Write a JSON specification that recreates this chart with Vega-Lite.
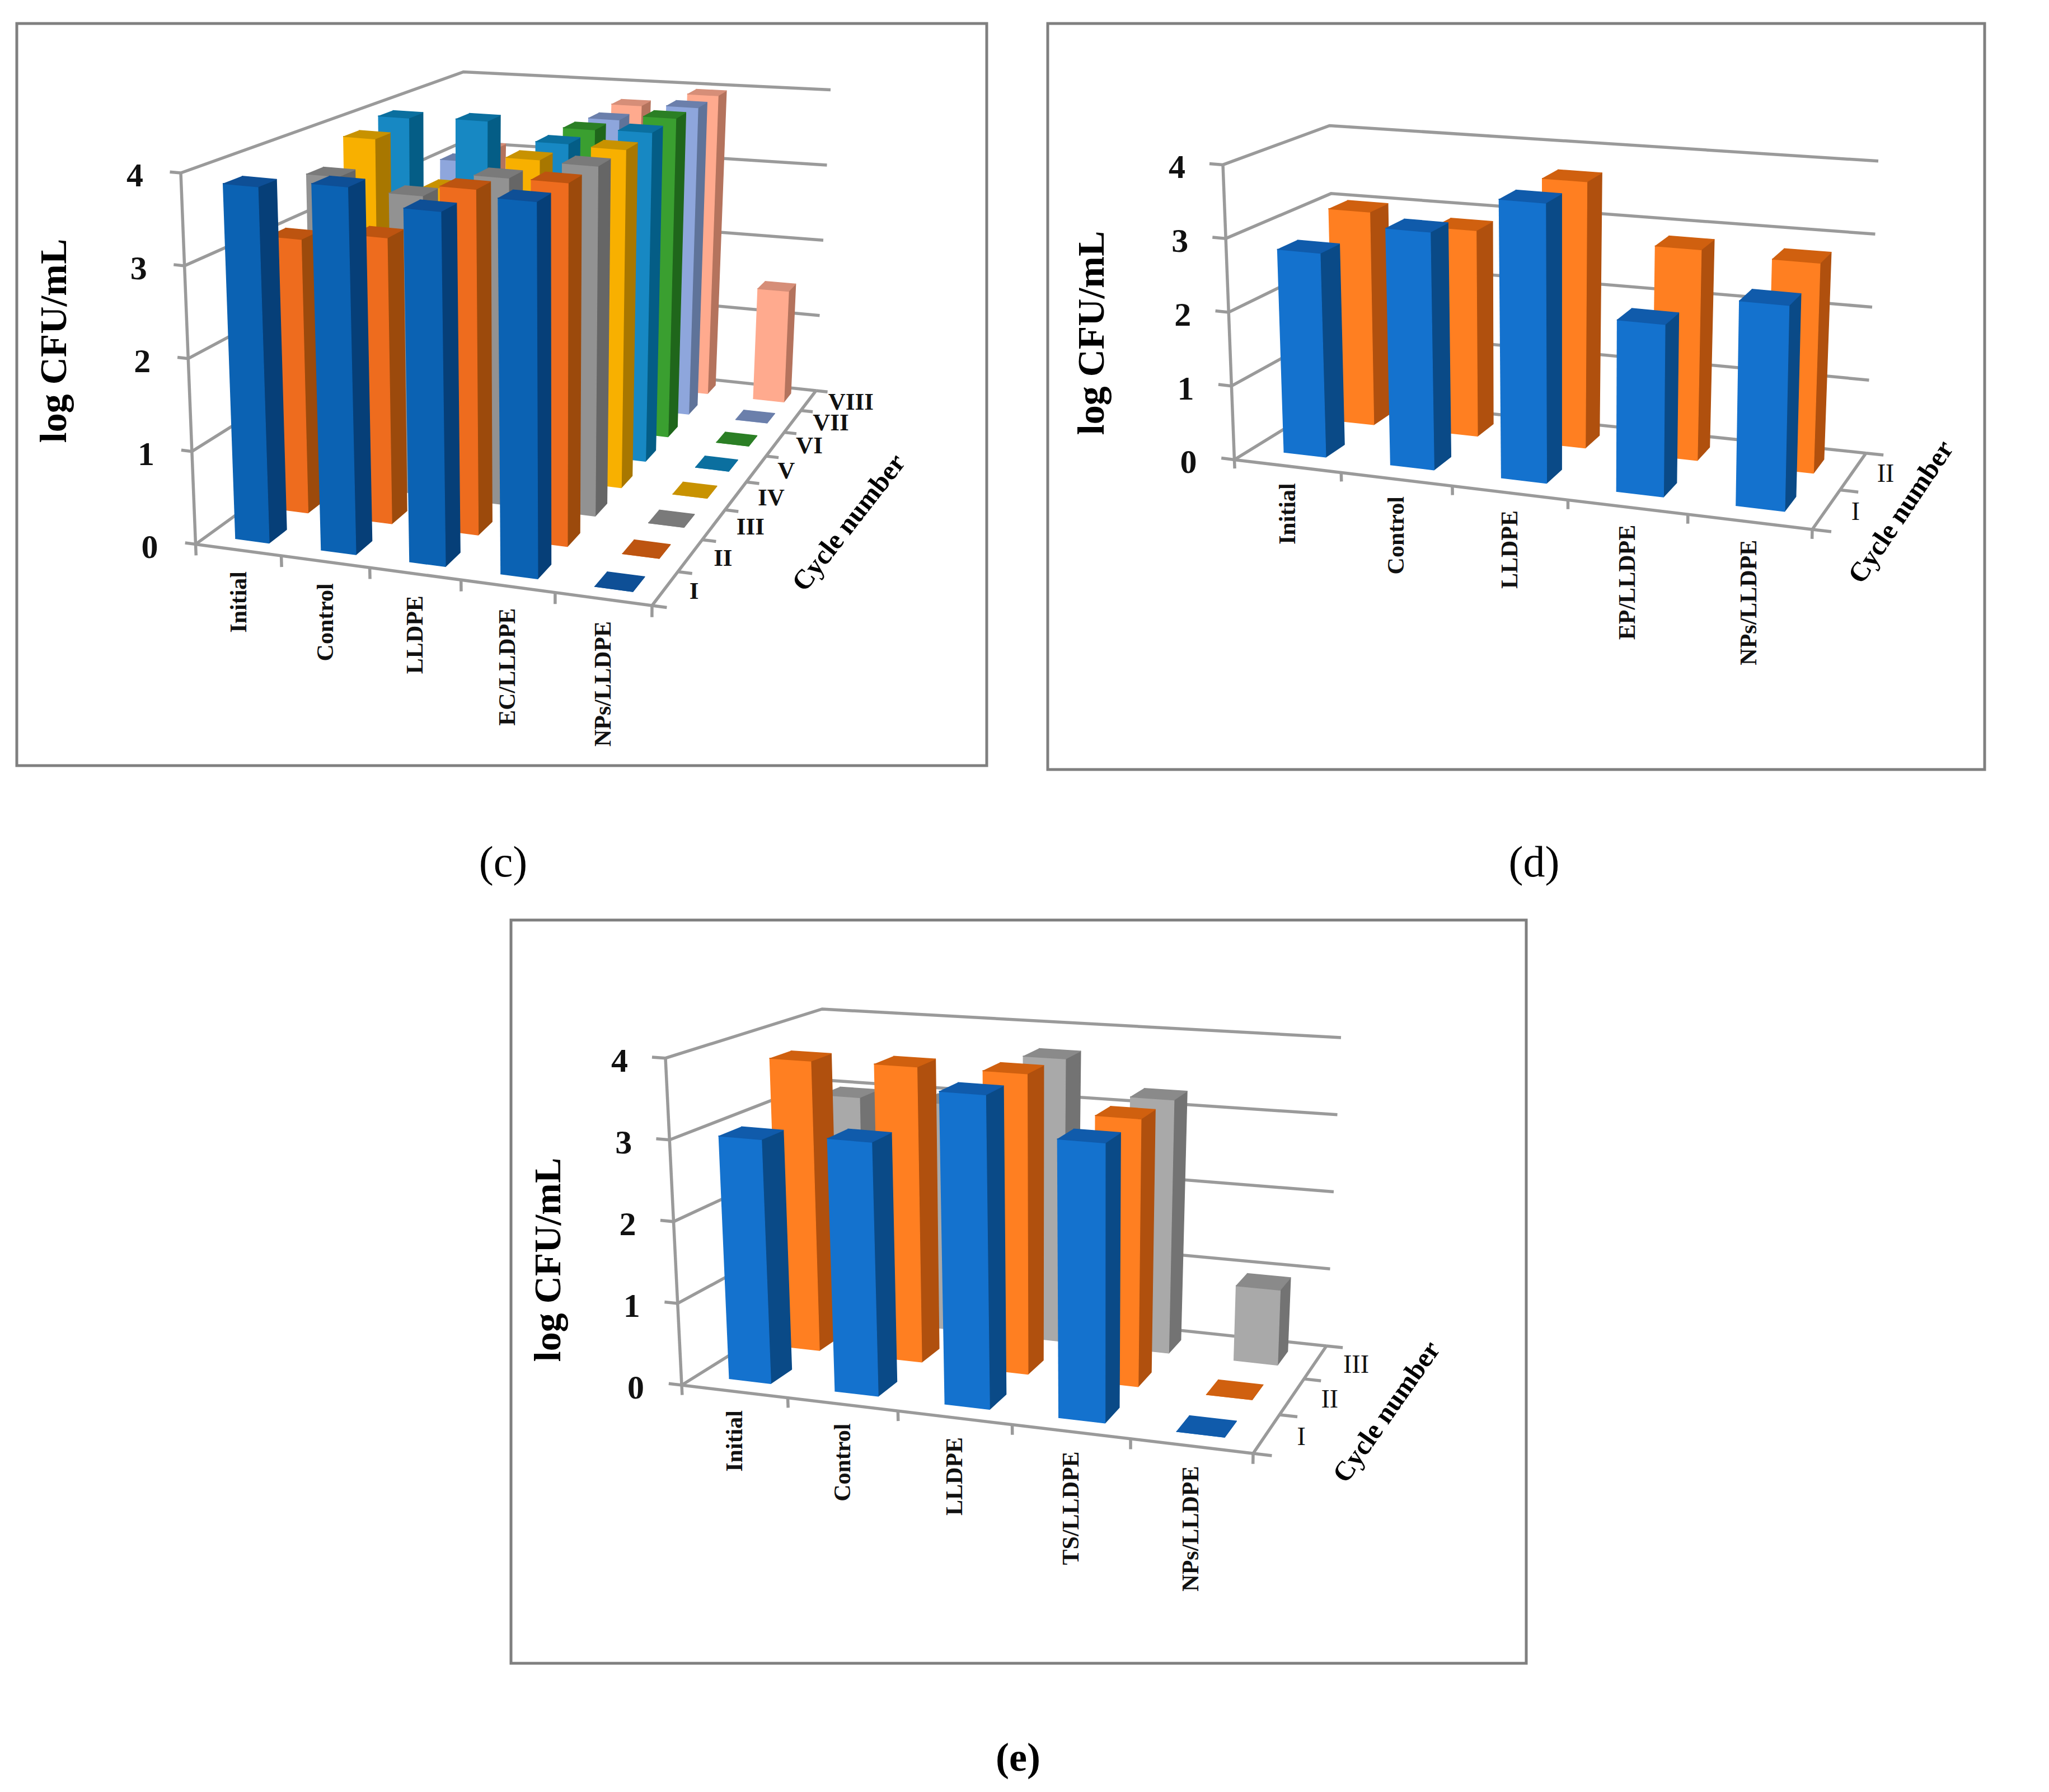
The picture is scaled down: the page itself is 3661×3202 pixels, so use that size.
{"$schema":"https://vega.github.io/schema/vega-lite/v6.json","width":3661,"height":3202,"padding":0,"autosize":{"type":"fit","contains":"padding"},"background":"white","config":{"view":{"stroke":null}},
"params":[{"name":"geo","value":{
"c":{"n":8,"ku":0.077,"kw":0.3,"cu":1.05,"bu":[0.32,0.72],"bw":[0.3,0.74],"frame":[30,42,1763,1368],"cap":[899,1543],"yt":[98,609],"ct":[1517,934],"ang":308,
"x":[349.5,1165,822,1458,323,1170,828,1484],"y":[972.5,1082,630,698,309,389,128.5,160.6],
"pal":[["#0b62b3","#063f78","#0e4f96"],["#ee6c1e","#9c4a0c","#bd5410"],["#929292","#666666","#7a7a7a"],["#f8b000","#a87700","#c89200"],["#1788c3","#045d86","#0b6f9f"],["#3a9f30","#1f661b","#2b7f25"],["#8ea6dc","#5f7399","#6b7fab"],["#ffaa8e","#b4735d","#d68e78"]]},
"d":{"n":2,"ku":0.095,"kw":0.07,"cu":1.04,"bu":[0.3,0.7],"bw":[0.34,0.72],"frame":[1872,42,3546,1375],"cap":[2741,1543],"yt":[1952,595],"ct":[3397,915],"ang":304,
"x":[2205.5,3238,2386,3334,2185,3250,2375.5,3356],"y":[821.4,946,710,809.7,294.4,383,224.5,287.8],
"pal":[["#1472ce","#0a4a87","#105bab"],["#ff7f21","#b0500e","#d0600f"]]},
"e":{"n":3,"ku":0.09,"kw":0.12,"cu":1.05,"bu":[0.3,0.7],"bw":[0.3,0.72],"frame":[913,1644,2727,2972],"cap":[1819,3142],"yt":[981,2251],"ct":[2478,2523],"ang":305,
"x":[1218,2239,1481.6,2370,1189,2248,1469,2396],"y":[2475,2597,2310.6,2405,1890.7,1970,1803,1854],
"pal":[["#1472ce","#0a4a87","#105bab"],["#ff7f21","#b0500e","#d0600f"],["#a9a9a9","#737373","#8a8a8a"]]}
}}],
"datasets":{
"panels":[{"panel":"c","caption":"(c)"},{"panel":"d","caption":"(d)"},{"panel":"e","caption":"(e)"}],
"axes":[
{"panel":"c","kind":"wall","n":0},{"panel":"c","kind":"wall","n":1},{"panel":"c","kind":"wall","n":2},{"panel":"c","kind":"wall","n":3},{"panel":"c","kind":"wall","n":4},{"panel":"c","kind":"valueAxis","n":0},{"panel":"c","kind":"floor","n":0},
{"panel":"c","kind":"catTick","n":0},{"panel":"c","kind":"catTick","n":1},{"panel":"c","kind":"catTick","n":2},{"panel":"c","kind":"catTick","n":3},{"panel":"c","kind":"catTick","n":4},{"panel":"c","kind":"catTick","n":5},
{"panel":"c","kind":"cycTick","n":0},{"panel":"c","kind":"cycTick","n":1},{"panel":"c","kind":"cycTick","n":2},{"panel":"c","kind":"cycTick","n":3},{"panel":"c","kind":"cycTick","n":4},{"panel":"c","kind":"cycTick","n":5},{"panel":"c","kind":"cycTick","n":6},{"panel":"c","kind":"cycTick","n":7},{"panel":"c","kind":"cycTick","n":8},
{"panel":"d","kind":"wall","n":0},{"panel":"d","kind":"wall","n":1},{"panel":"d","kind":"wall","n":2},{"panel":"d","kind":"wall","n":3},{"panel":"d","kind":"wall","n":4},{"panel":"d","kind":"valueAxis","n":0},{"panel":"d","kind":"floor","n":0},
{"panel":"d","kind":"catTick","n":0},{"panel":"d","kind":"catTick","n":1},{"panel":"d","kind":"catTick","n":2},{"panel":"d","kind":"catTick","n":3},{"panel":"d","kind":"catTick","n":4},{"panel":"d","kind":"catTick","n":5},
{"panel":"d","kind":"cycTick","n":0},{"panel":"d","kind":"cycTick","n":1},{"panel":"d","kind":"cycTick","n":2},
{"panel":"e","kind":"wall","n":0},{"panel":"e","kind":"wall","n":1},{"panel":"e","kind":"wall","n":2},{"panel":"e","kind":"wall","n":3},{"panel":"e","kind":"wall","n":4},{"panel":"e","kind":"valueAxis","n":0},{"panel":"e","kind":"floor","n":0},
{"panel":"e","kind":"catTick","n":0},{"panel":"e","kind":"catTick","n":1},{"panel":"e","kind":"catTick","n":2},{"panel":"e","kind":"catTick","n":3},{"panel":"e","kind":"catTick","n":4},{"panel":"e","kind":"catTick","n":5},
{"panel":"e","kind":"cycTick","n":0},{"panel":"e","kind":"cycTick","n":1},{"panel":"e","kind":"cycTick","n":2},{"panel":"e","kind":"cycTick","n":3}],
"labels":[
{"panel":"c","kind":"value","n":0,"label":"0"},{"panel":"c","kind":"value","n":1,"label":"1"},{"panel":"c","kind":"value","n":2,"label":"2"},{"panel":"c","kind":"value","n":3,"label":"3"},{"panel":"c","kind":"value","n":4,"label":"4"},
{"panel":"d","kind":"value","n":0,"label":"0"},{"panel":"d","kind":"value","n":1,"label":"1"},{"panel":"d","kind":"value","n":2,"label":"2"},{"panel":"d","kind":"value","n":3,"label":"3"},{"panel":"d","kind":"value","n":4,"label":"4"},
{"panel":"e","kind":"value","n":0,"label":"0"},{"panel":"e","kind":"value","n":1,"label":"1"},{"panel":"e","kind":"value","n":2,"label":"2"},{"panel":"e","kind":"value","n":3,"label":"3"},{"panel":"e","kind":"value","n":4,"label":"4"},
{"panel":"c","kind":"category","n":0,"label":"Initial"},{"panel":"c","kind":"category","n":1,"label":"Control"},{"panel":"c","kind":"category","n":2,"label":"LLDPE"},{"panel":"c","kind":"category","n":3,"label":"EC/LLDPE"},{"panel":"c","kind":"category","n":4,"label":"NPs/LLDPE"},
{"panel":"d","kind":"category","n":0,"label":"Initial"},{"panel":"d","kind":"category","n":1,"label":"Control"},{"panel":"d","kind":"category","n":2,"label":"LLDPE"},{"panel":"d","kind":"category","n":3,"label":"EP/LLDPE"},{"panel":"d","kind":"category","n":4,"label":"NPs/LLDPE"},
{"panel":"e","kind":"category","n":0,"label":"Initial"},{"panel":"e","kind":"category","n":1,"label":"Control"},{"panel":"e","kind":"category","n":2,"label":"LLDPE"},{"panel":"e","kind":"category","n":3,"label":"TS/LLDPE"},{"panel":"e","kind":"category","n":4,"label":"NPs/LLDPE"},
{"panel":"c","kind":"cycle","n":0,"label":"I"},{"panel":"c","kind":"cycle","n":1,"label":"II"},{"panel":"c","kind":"cycle","n":2,"label":"III"},{"panel":"c","kind":"cycle","n":3,"label":"IV"},{"panel":"c","kind":"cycle","n":4,"label":"V"},{"panel":"c","kind":"cycle","n":5,"label":"VI"},{"panel":"c","kind":"cycle","n":6,"label":"VII"},{"panel":"c","kind":"cycle","n":7,"label":"VIII"},
{"panel":"d","kind":"cycle","n":0,"label":"I"},{"panel":"d","kind":"cycle","n":1,"label":"II"},
{"panel":"e","kind":"cycle","n":0,"label":"I"},{"panel":"e","kind":"cycle","n":1,"label":"II"},{"panel":"e","kind":"cycle","n":2,"label":"III"}],
"bars":[
{"panel":"c","category":"Initial","i":0,"cycle":"VIII","j":7,"value":3.06},{"panel":"c","category":"Control","i":1,"cycle":"VIII","j":7,"value":3.0},{"panel":"c","category":"LLDPE","i":2,"cycle":"VIII","j":7,"value":3.77},{"panel":"c","category":"EC/LLDPE","i":3,"cycle":"VIII","j":7,"value":3.96},{"panel":"c","category":"NPs/LLDPE","i":4,"cycle":"VIII","j":7,"value":1.45},
{"panel":"c","category":"Initial","i":0,"cycle":"VII","j":6,"value":3.06},{"panel":"c","category":"Control","i":1,"cycle":"VII","j":6,"value":3.0},{"panel":"c","category":"LLDPE","i":2,"cycle":"VII","j":6,"value":3.74},{"panel":"c","category":"EC/LLDPE","i":3,"cycle":"VII","j":6,"value":3.96},{"panel":"c","category":"NPs/LLDPE","i":4,"cycle":"VII","j":6,"value":0},
{"panel":"c","category":"Initial","i":0,"cycle":"VI","j":5,"value":2.7},{"panel":"c","category":"Control","i":1,"cycle":"VI","j":5,"value":3.1},{"panel":"c","category":"LLDPE","i":2,"cycle":"VI","j":5,"value":3.78},{"panel":"c","category":"EC/LLDPE","i":3,"cycle":"VI","j":5,"value":3.99},{"panel":"c","category":"NPs/LLDPE","i":4,"cycle":"VI","j":5,"value":0},
{"panel":"c","category":"Initial","i":0,"cycle":"V","j":4,"value":3.96},{"panel":"c","category":"Control","i":1,"cycle":"V","j":4,"value":3.99},{"panel":"c","category":"LLDPE","i":2,"cycle":"V","j":4,"value":3.78},{"panel":"c","category":"EC/LLDPE","i":3,"cycle":"V","j":4,"value":3.99},{"panel":"c","category":"NPs/LLDPE","i":4,"cycle":"V","j":4,"value":0},
{"panel":"c","category":"Initial","i":0,"cycle":"IV","j":3,"value":3.87},{"panel":"c","category":"Control","i":1,"cycle":"IV","j":3,"value":3.34},{"panel":"c","category":"LLDPE","i":2,"cycle":"IV","j":3,"value":3.77},{"panel":"c","category":"EC/LLDPE","i":3,"cycle":"IV","j":3,"value":3.97},{"panel":"c","category":"NPs/LLDPE","i":4,"cycle":"IV","j":3,"value":0},
{"panel":"c","category":"Initial","i":0,"cycle":"III","j":2,"value":3.6},{"panel":"c","category":"Control","i":1,"cycle":"III","j":2,"value":3.46},{"panel":"c","category":"LLDPE","i":2,"cycle":"III","j":2,"value":3.75},{"panel":"c","category":"EC/LLDPE","i":3,"cycle":"III","j":2,"value":3.97},{"panel":"c","category":"NPs/LLDPE","i":4,"cycle":"III","j":2,"value":0},
{"panel":"c","category":"Initial","i":0,"cycle":"II","j":1,"value":3.08},{"panel":"c","category":"Control","i":1,"cycle":"II","j":1,"value":3.19},{"panel":"c","category":"LLDPE","i":2,"cycle":"II","j":1,"value":3.82},{"panel":"c","category":"EC/LLDPE","i":3,"cycle":"II","j":1,"value":3.98},{"panel":"c","category":"NPs/LLDPE","i":4,"cycle":"II","j":1,"value":0},
{"panel":"c","category":"Initial","i":0,"cycle":"I","j":0,"value":3.86},{"panel":"c","category":"Control","i":1,"cycle":"I","j":0,"value":3.95},{"panel":"c","category":"LLDPE","i":2,"cycle":"I","j":0,"value":3.78},{"panel":"c","category":"EC/LLDPE","i":3,"cycle":"I","j":0,"value":3.98},{"panel":"c","category":"NPs/LLDPE","i":4,"cycle":"I","j":0,"value":0},
{"panel":"d","category":"Initial","i":0,"cycle":"II","j":1,"value":3.02},{"panel":"d","category":"Control","i":1,"cycle":"II","j":1,"value":2.88},{"panel":"d","category":"LLDPE","i":2,"cycle":"II","j":1,"value":3.68},{"panel":"d","category":"EP/LLDPE","i":3,"cycle":"II","j":1,"value":2.87},{"panel":"d","category":"NPs/LLDPE","i":4,"cycle":"II","j":1,"value":2.82},
{"panel":"d","category":"Initial","i":0,"cycle":"I","j":0,"value":2.78},{"panel":"d","category":"Control","i":1,"cycle":"I","j":0,"value":3.2},{"panel":"d","category":"LLDPE","i":2,"cycle":"I","j":0,"value":3.72},{"panel":"d","category":"EP/LLDPE","i":3,"cycle":"I","j":0,"value":2.26},{"panel":"d","category":"NPs/LLDPE","i":4,"cycle":"I","j":0,"value":2.66},
{"panel":"e","category":"Initial","i":0,"cycle":"III","j":2,"value":3.0},{"panel":"e","category":"Control","i":1,"cycle":"III","j":2,"value":3.0},{"panel":"e","category":"LLDPE","i":2,"cycle":"III","j":2,"value":3.7},{"panel":"e","category":"TS/LLDPE","i":3,"cycle":"III","j":2,"value":3.26},{"panel":"e","category":"NPs/LLDPE","i":4,"cycle":"III","j":2,"value":0.95},
{"panel":"e","category":"Initial","i":0,"cycle":"II","j":1,"value":3.73},{"panel":"e","category":"Control","i":1,"cycle":"II","j":1,"value":3.75},{"panel":"e","category":"LLDPE","i":2,"cycle":"II","j":1,"value":3.76},{"panel":"e","category":"TS/LLDPE","i":3,"cycle":"II","j":1,"value":3.3},{"panel":"e","category":"NPs/LLDPE","i":4,"cycle":"II","j":1,"value":0},
{"panel":"e","category":"Initial","i":0,"cycle":"I","j":0,"value":3.0},{"panel":"e","category":"Control","i":1,"cycle":"I","j":0,"value":3.08},{"panel":"e","category":"LLDPE","i":2,"cycle":"I","j":0,"value":3.76},{"panel":"e","category":"TS/LLDPE","i":3,"cycle":"I","j":0,"value":3.3},{"panel":"e","category":"NPs/LLDPE","i":4,"cycle":"I","j":0,"value":0}
]},
"layer":[
{"data":{"name":"panels"},
 "transform":[{"calculate":"geo[datum.panel].frame[0]","as":"fx"},{"calculate":"geo[datum.panel].frame[1]","as":"fy"},{"calculate":"geo[datum.panel].frame[2]","as":"fx2"},{"calculate":"geo[datum.panel].frame[3]","as":"fy2"}],
 "mark":{"type":"rect","fill":"white","stroke":"#7f7f7f","strokeWidth":5},
 "encoding":{"x":{"field":"fx","type":"quantitative","scale":{"domain":[0,3661],"nice":false,"zero":false},"axis":null},"x2":{"field":"fx2"},"y":{"field":"fy","type":"quantitative","scale":{"domain":[3202,0],"nice":false,"zero":false},"axis":null},"y2":{"field":"fy2"}}},
{"data":{"name":"axes"},
 "transform":[
 {"calculate":"geo[datum.panel]","as":"g"},
 {"calculate":"datum.kind=='wall'?[-0.025,0,0,1]:datum.kind=='valueAxis'?[0,0]:datum.kind=='floor'?[0,1,1]:datum.kind=='catTick'?[datum.n/5,datum.n/5]:[1,1.03]","as":"U"},
 {"calculate":"datum.kind=='wall'?[0,0,1,1]:datum.kind=='valueAxis'?[0,0]:datum.kind=='floor'?[0,0,1]:datum.kind=='catTick'?[0,0]:[datum.n/datum.g.n,datum.n/datum.g.n]","as":"W"},
 {"calculate":"datum.kind=='wall'?[datum.n,datum.n,datum.n,datum.n]:datum.kind=='valueAxis'?[0,4]:datum.kind=='floor'?[0,0,0]:datum.kind=='catTick'?[0,-0.12]:[0,0]","as":"V"},
 {"calculate":"datum.kind=='wall'?[0,1,2,3]:datum.kind=='floor'?[0,1,2]:[0,1]","as":"seq"},
 {"flatten":["U","W","V","seq"]},
 {"calculate":"datum.U-datum.g.ku*datum.U*(1-datum.U)","as":"a"},{"calculate":"datum.W+datum.g.kw*datum.W*(1-datum.W)","as":"b"},{"calculate":"datum.V/4","as":"t"},
 {"calculate":"(1-datum.t)*((1-datum.b)*((1-datum.a)*datum.g.x[0]+datum.a*datum.g.x[1])+datum.b*((1-datum.a)*datum.g.x[2]+datum.a*datum.g.x[3]))+datum.t*((1-datum.b)*((1-datum.a)*datum.g.x[4]+datum.a*datum.g.x[5])+datum.b*((1-datum.a)*datum.g.x[6]+datum.a*datum.g.x[7]))","as":"X"},
 {"calculate":"(1-datum.t)*((1-datum.b)*((1-datum.a)*datum.g.y[0]+datum.a*datum.g.y[1])+datum.b*((1-datum.a)*datum.g.y[2]+datum.a*datum.g.y[3]))+datum.t*((1-datum.b)*((1-datum.a)*datum.g.y[4]+datum.a*datum.g.y[5])+datum.b*((1-datum.a)*datum.g.y[6]+datum.a*datum.g.y[7]))","as":"Y"},
 {"calculate":"datum.panel+'-'+datum.kind+'-'+datum.n","as":"id"}],
 "mark":{"type":"line","stroke":"#9a9a9a","strokeWidth":5.5,"strokeJoin":"miter","strokeCap":"butt"},
 "encoding":{"x":{"field":"X","type":"quantitative","scale":{"domain":[0,3661],"nice":false,"zero":false},"axis":null},"y":{"field":"Y","type":"quantitative","scale":{"domain":[3202,0],"nice":false,"zero":false},"axis":null},"detail":{"field":"id"},"order":{"field":"seq"}}},
{"data":{"name":"bars"},
 "transform":[
 {"calculate":"geo[datum.panel]","as":"g"},
 {"calculate":"[1,0,2]","as":"face"},{"flatten":["face"]},
 {"calculate":"[0,1,2,3]","as":"vertex"},{"flatten":["vertex"]},
 {"calculate":"(datum.i+datum.g.bu[0])/5","as":"u0"},{"calculate":"(datum.i+datum.g.bu[1])/5","as":"u1"},
 {"calculate":"(datum.j+datum.g.bw[0])/datum.g.n","as":"w0"},{"calculate":"(datum.j+datum.g.bw[1])/datum.g.n","as":"w1"},
 {"calculate":"datum.face==1?datum.u1:((datum.vertex==1||datum.vertex==2)?datum.u1:datum.u0)","as":"U"},
 {"calculate":"datum.face==0?datum.w0:datum.face==1?((datum.vertex==1||datum.vertex==2)?datum.w1:datum.w0):((datum.vertex>=2)?datum.w1:datum.w0)","as":"W"},
 {"calculate":"datum.face==2?datum.value:(datum.vertex>=2?datum.value:0)","as":"V"},
 {"calculate":"datum.U-datum.g.ku*datum.U*(1-datum.U)","as":"a"},{"calculate":"datum.W+datum.g.kw*datum.W*(1-datum.W)","as":"b"},{"calculate":"datum.V/4","as":"t"},
 {"calculate":"(1-datum.t)*((1-datum.b)*((1-datum.a)*datum.g.x[0]+datum.a*datum.g.x[1])+datum.b*((1-datum.a)*datum.g.x[2]+datum.a*datum.g.x[3]))+datum.t*((1-datum.b)*((1-datum.a)*datum.g.x[4]+datum.a*datum.g.x[5])+datum.b*((1-datum.a)*datum.g.x[6]+datum.a*datum.g.x[7]))","as":"X"},
 {"calculate":"(1-datum.t)*((1-datum.b)*((1-datum.a)*datum.g.y[0]+datum.a*datum.g.y[1])+datum.b*((1-datum.a)*datum.g.y[2]+datum.a*datum.g.y[3]))+datum.t*((1-datum.b)*((1-datum.a)*datum.g.y[4]+datum.a*datum.g.y[5])+datum.b*((1-datum.a)*datum.g.y[6]+datum.a*datum.g.y[7]))","as":"Y"},
 {"calculate":"datum.panel+'-'+datum.i+'-'+datum.j+'-'+datum.face","as":"poly"},
 {"calculate":"datum.g.pal[datum.j][datum.face]","as":"color"}],
 "mark":{"type":"line","strokeWidth":1.5,"strokeJoin":"round"},
 "encoding":{"x":{"field":"X","type":"quantitative","scale":{"domain":[0,3661],"nice":false,"zero":false},"axis":null},"y":{"field":"Y","type":"quantitative","scale":{"domain":[3202,0],"nice":false,"zero":false},"axis":null},"detail":{"field":"poly"},"order":{"field":"vertex"},"fill":{"field":"color","type":"nominal","scale":null},"stroke":{"field":"color","type":"nominal","scale":null}}},
{"data":{"name":"labels"},
 "transform":[
 {"calculate":"geo[datum.panel]","as":"g"},
 {"calculate":"datum.kind=='value'?0:datum.kind=='category'?(datum.n+0.5)/5:datum.g.cu","as":"U"},
 {"calculate":"datum.kind=='cycle'?(datum.n+0.5)/datum.g.n:0","as":"W"},
 {"calculate":"datum.kind=='value'?datum.n:datum.kind=='category'?-0.23:0","as":"V"},
 {"calculate":"datum.U-datum.g.ku*datum.U*(1-datum.U)","as":"a"},{"calculate":"datum.W+datum.g.kw*datum.W*(1-datum.W)","as":"b"},{"calculate":"datum.V/4","as":"t"},
 {"calculate":"(1-datum.t)*((1-datum.b)*((1-datum.a)*datum.g.x[0]+datum.a*datum.g.x[1])+datum.b*((1-datum.a)*datum.g.x[2]+datum.a*datum.g.x[3]))+datum.t*((1-datum.b)*((1-datum.a)*datum.g.x[4]+datum.a*datum.g.x[5])+datum.b*((1-datum.a)*datum.g.x[6]+datum.a*datum.g.x[7]))","as":"X"},
 {"calculate":"(1-datum.t)*((1-datum.b)*((1-datum.a)*datum.g.y[0]+datum.a*datum.g.y[1])+datum.b*((1-datum.a)*datum.g.y[2]+datum.a*datum.g.y[3]))+datum.t*((1-datum.b)*((1-datum.a)*datum.g.y[4]+datum.a*datum.g.y[5])+datum.b*((1-datum.a)*datum.g.y[6]+datum.a*datum.g.y[7]))","as":"Y"}],
 "encoding":{"x":{"field":"X","type":"quantitative","scale":{"domain":[0,3661],"nice":false,"zero":false},"axis":null},"y":{"field":"Y","type":"quantitative","scale":{"domain":[3202,0],"nice":false,"zero":false},"axis":null},"text":{"field":"label"}},
 "layer":[
 {"transform":[{"filter":"datum.kind=='value'"}],"mark":{"type":"text","font":"Liberation Serif","fontWeight":"bold","fontSize":60,"align":"center","baseline":"middle","dx":-82,"dy":6,"color":"#111111"}},
 {"transform":[{"filter":"datum.kind=='category'"}],"mark":{"type":"text","font":"Liberation Serif","fontWeight":"bold","fontSize":42,"align":"right","baseline":"middle","angle":270,"color":"#111111"}},
 {"transform":[{"filter":"datum.kind=='cycle'&&datum.panel=='c'"}],"mark":{"type":"text","font":"Liberation Serif","fontWeight":"bold","fontSize":43,"align":"left","baseline":"middle","color":"#111111"}},
 {"transform":[{"filter":"datum.kind=='cycle'&&datum.panel!='c'"}],"mark":{"type":"text","font":"Liberation Serif","fontWeight":"normal","fontSize":46,"align":"left","baseline":"middle","color":"#111111"}}]},
{"data":{"name":"panels"},
 "transform":[{"calculate":"geo[datum.panel].yt[0]","as":"X"},{"calculate":"geo[datum.panel].yt[1]","as":"Y"},{"calculate":"'log CFU/mL'","as":"label"}],
 "mark":{"type":"text","font":"Liberation Serif","fontWeight":"bold","fontSize":68,"angle":270,"align":"center","baseline":"middle","color":"#000000"},
 "encoding":{"x":{"field":"X","type":"quantitative","scale":{"domain":[0,3661],"nice":false,"zero":false},"axis":null},"y":{"field":"Y","type":"quantitative","scale":{"domain":[3202,0],"nice":false,"zero":false},"axis":null},"text":{"field":"label"}}},
{"data":{"name":"panels"},
 "transform":[{"calculate":"geo[datum.panel].ct[0]","as":"X"},{"calculate":"geo[datum.panel].ct[1]","as":"Y"},{"calculate":"geo[datum.panel].ang","as":"ang"},{"calculate":"'Cycle number'","as":"label"}],
 "mark":{"type":"text","font":"Liberation Serif","fontWeight":"bold","fontSize":49,"align":"center","baseline":"middle","color":"#000000"},
 "encoding":{"x":{"field":"X","type":"quantitative","scale":{"domain":[0,3661],"nice":false,"zero":false},"axis":null},"y":{"field":"Y","type":"quantitative","scale":{"domain":[3202,0],"nice":false,"zero":false},"axis":null},"text":{"field":"label"},"angle":{"field":"ang","type":"quantitative","scale":null}}},
{"data":{"name":"panels"},
 "transform":[{"filter":"datum.panel!='e'"},{"calculate":"geo[datum.panel].cap[0]","as":"X"},{"calculate":"geo[datum.panel].cap[1]","as":"Y"}],
 "mark":{"type":"text","font":"Liberation Serif","fontSize":78,"align":"center","baseline":"middle","color":"#000000"},
 "encoding":{"x":{"field":"X","type":"quantitative","scale":{"domain":[0,3661],"nice":false,"zero":false},"axis":null},"y":{"field":"Y","type":"quantitative","scale":{"domain":[3202,0],"nice":false,"zero":false},"axis":null},"text":{"field":"caption"}}},
{"data":{"name":"panels"},
 "transform":[{"filter":"datum.panel=='e'"},{"calculate":"geo[datum.panel].cap[0]","as":"X"},{"calculate":"geo[datum.panel].cap[1]","as":"Y"}],
 "mark":{"type":"text","font":"Liberation Serif","fontWeight":"bold","fontSize":72,"align":"center","baseline":"middle","color":"#000000"},
 "encoding":{"x":{"field":"X","type":"quantitative","scale":{"domain":[0,3661],"nice":false,"zero":false},"axis":null},"y":{"field":"Y","type":"quantitative","scale":{"domain":[3202,0],"nice":false,"zero":false},"axis":null},"text":{"field":"caption"}}}
]}
